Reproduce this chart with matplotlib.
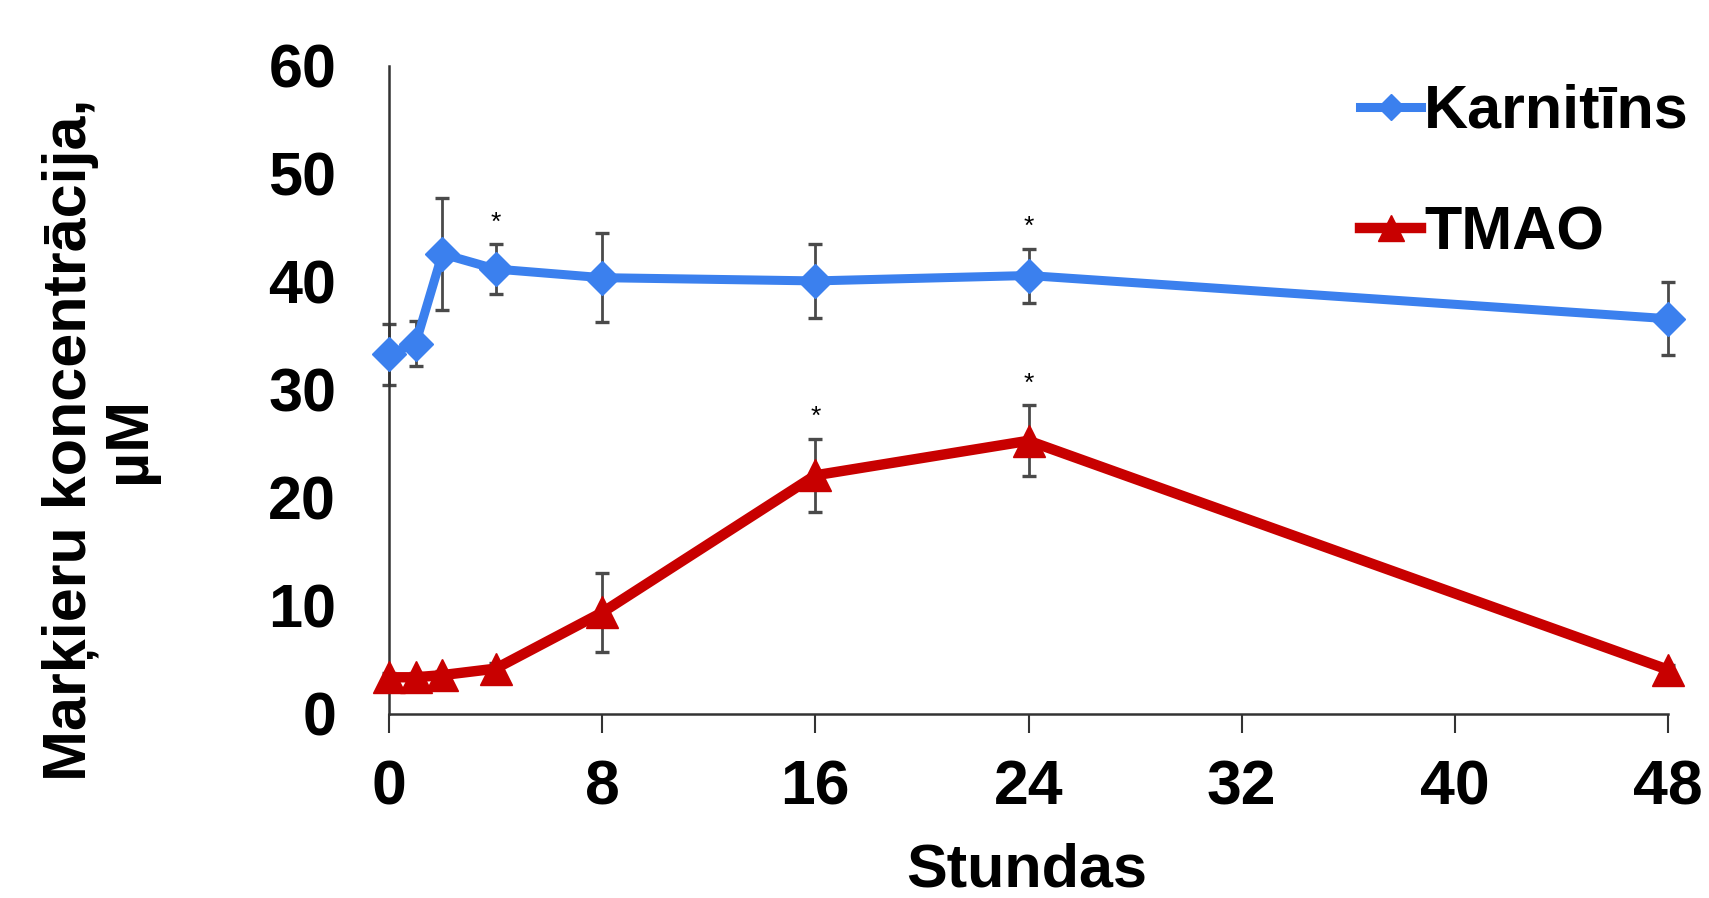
import matplotlib
matplotlib.use("Agg")
import matplotlib.pyplot as plt

# ---- data ----
hours = [0, 1, 2, 4, 8, 16, 24, 48]
karnitins = [33.3, 34.3, 42.6, 41.2, 40.4, 40.1, 40.6, 36.6]
karnitins_err = [2.8, 2.1, 5.2, 2.3, 4.1, 3.4, 2.5, 3.4]
tmao = [3.4, 3.4, 3.6, 4.2, 9.4, 22.1, 25.3, 4.1]
tmao_err = [0.4, 0.4, 0.4, 0.5, 3.7, 3.4, 3.3, 0.4]
karnitins_sig = [4, 24]
tmao_sig = [16, 24]
x_ticks = [0, 8, 16, 24, 32, 40, 48]
y_ticks = [0, 10, 20, 30, 40, 50, 60]
series_labels = ["Karnitīns", "TMAO"]
x_label = "Stundas"
y_label = "Marķieru koncentrācija,\nµM"

BLUE = "#3B80EE"
RED = "#C80000"
ERR = "#4A4A4A"
FONT = "Liberation Sans"

plt.rcParams["font.family"] = [FONT, "DejaVu Sans"]
plt.rcParams["font.weight"] = "bold"

fig = plt.figure(figsize=(17.09, 8.98), dpi=100)
ax = fig.add_axes([389 / 1709, 1 - 714 / 898, (1668 - 389) / 1709, (714 - 66) / 898])

ax.errorbar(hours, karnitins, yerr=karnitins_err, fmt="none", ecolor=ERR,
            elinewidth=2.0, capsize=5, capthick=2.4, zorder=2, clip_on=False)
ax.errorbar(hours, tmao, yerr=tmao_err, fmt="none", ecolor=ERR,
            elinewidth=2.0, capsize=5, capthick=2.4, zorder=2, clip_on=False)

lk, = ax.plot(hours, karnitins, color=BLUE, lw=6.5, marker="D", ms=17,
              mec=BLUE, mfc=BLUE, label=series_labels[0], zorder=3, clip_on=False)
lt, = ax.plot(hours, tmao, color=RED, lw=7.5, marker="^", ms=23,
              mec=RED, mfc=RED, label=series_labels[1], zorder=3, clip_on=False)

for h in karnitins_sig:
    i = hours.index(h)
    ax.text(h, karnitins[i] + karnitins_err[i] + 0.9, "*", ha="center",
            va="bottom", fontsize=19, color="black", fontweight="normal")
for h in tmao_sig:
    i = hours.index(h)
    ax.text(h, tmao[i] + tmao_err[i] + 0.9, "*", ha="center",
            va="bottom", fontsize=19, color="black", fontweight="normal")

ax.set_xlim(0, 48)
ax.set_ylim(0, 60)
ax.set_xticks(x_ticks)
ax.set_yticks(y_ticks)
ax.set_xticklabels([str(v) for v in x_ticks], fontsize=45, fontweight="bold")
ax.set_yticklabels([str(v) for v in y_ticks], fontsize=44, fontweight="bold")
ax.tick_params(axis="x", direction="out", length=14, width=1.5, pad=18, color="#333333")
ax.tick_params(axis="y", length=0, pad=38)

for s in ["top", "right"]:
    ax.spines[s].set_visible(False)
for s in ["left", "bottom"]:
    ax.spines[s].set_linewidth(1.8)
    ax.spines[s].set_color("#333333")

fig.text(1027 / 1709, 1 - 871 / 898, x_label, ha="center", va="center",
         fontsize=44, fontweight="bold")
fig.text(100 / 1709, 1 - 440 / 898, y_label, ha="center", va="center",
         rotation=90, fontsize=44, fontweight="bold", multialignment="center",
         linespacing=1.05)

leg = fig.legend(handles=[lk, lt], loc="upper left",
                 bbox_to_anchor=(1360 / 1709, 1 - 84 / 898), frameon=False,
                 prop={"weight": "bold", "size": 44},
                 handlelength=1.0, handletextpad=0.05, labelspacing=1.05,
                 borderpad=0, borderaxespad=0, markerscale=0.8)

fig.savefig("out.png", dpi=100)
